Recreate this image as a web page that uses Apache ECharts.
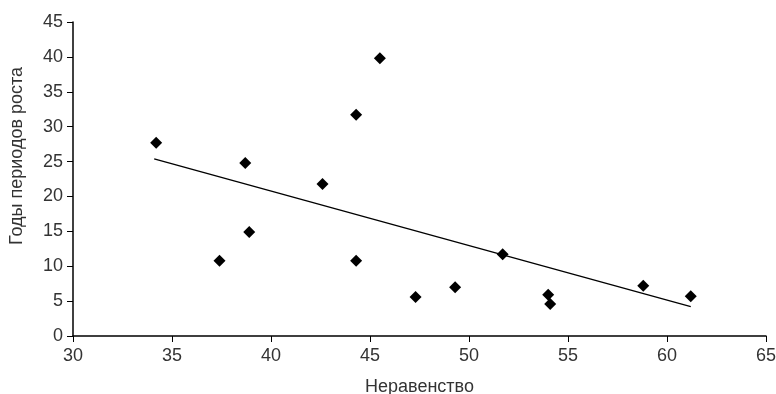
<!DOCTYPE html>
<html>
<head>
<meta charset="utf-8">
<script src="https://cdn.jsdelivr.net/npm/echarts@6/dist/echarts.min.js"></script>
<style>
  html, body { margin: 0; padding: 0; background: #fff; }
  #chart { width: 776px; height: 394px; }
</style>
</head>
<body>
<div id="chart"></div>
<script>
// неравенство / годы периодов роста
var inequality = [34.2, 38.7, 37.4, 38.9, 45.5, 44.3, 42.6, 44.3, 47.3, 49.3, 51.7, 54.0, 54.1, 58.8, 61.2];
var growthYears = [27.7, 24.8, 10.8, 14.9, 39.8, 31.7, 21.8, 10.8, 5.6, 7.0, 11.7, 5.9, 4.6, 7.2, 5.7];
// линия тренда (концы)
var trendX = [34.1, 61.2];
var trendY = [25.4, 4.2];

var xTicks = { min: 30, max: 65, step: 5 };
var yTicks = { min: 0, max: 45, step: 5 };

var points = inequality.map(function (x, i) { return [x, growthYears[i]]; });
var trend = trendX.map(function (x, i) { return [x, trendY[i]]; });

var font = 'Liberation Sans, Arial, sans-serif';
var textColor = '#333';

var myChart = echarts.init(document.getElementById('chart'), null, { renderer: 'canvas' });
myChart.setOption({
    backgroundColor: '#fff',
    animation: false,
    grid: { left: 73, right: 10, top: 22, bottom: 58, containLabel: false, outerBoundsMode: 'none' },
    xAxis: {
        type: 'value',
        min: xTicks.min, max: xTicks.max, interval: xTicks.step,
        name: 'Неравенство',
        nameLocation: 'middle',
        nameGap: 42,
        nameTextStyle: { fontFamily: font, fontSize: 18, color: textColor },
        axisLine: { lineStyle: { color: '#000', width: 1.5 } },
        axisTick: { length: 6, lineStyle: { color: '#000', width: 1 } },
        axisLabel: { fontFamily: font, fontSize: 18, color: textColor, margin: 11 },
        splitLine: { show: false }
    },
    yAxis: {
        type: 'value',
        min: yTicks.min, max: yTicks.max, interval: yTicks.step,
        name: 'Годы периодов роста',
        nameLocation: 'middle',
        nameGap: 47,
        nameTextStyle: { fontFamily: font, fontSize: 18, color: textColor, padding: [0, 0, 0, 46] },
        axisLine: { show: true, lineStyle: { color: '#000', width: 1.5 } },
        axisTick: { show: true, length: 6, lineStyle: { color: '#000', width: 1 } },
        axisLabel: { fontFamily: font, fontSize: 18, color: textColor, margin: 10 },
        splitLine: { show: false }
    },
    series: [
        {
            type: 'scatter',
            data: points,
            symbol: 'diamond',
            symbolSize: 12,
            itemStyle: { color: '#000', opacity: 1 },
            z: 3
        },
        {
            type: 'line',
            data: trend,
            showSymbol: false,
            symbol: 'none',
            lineStyle: { color: '#000', width: 1.3 },
            z: 2
        }
    ]
});
</script>
</body>
</html>
